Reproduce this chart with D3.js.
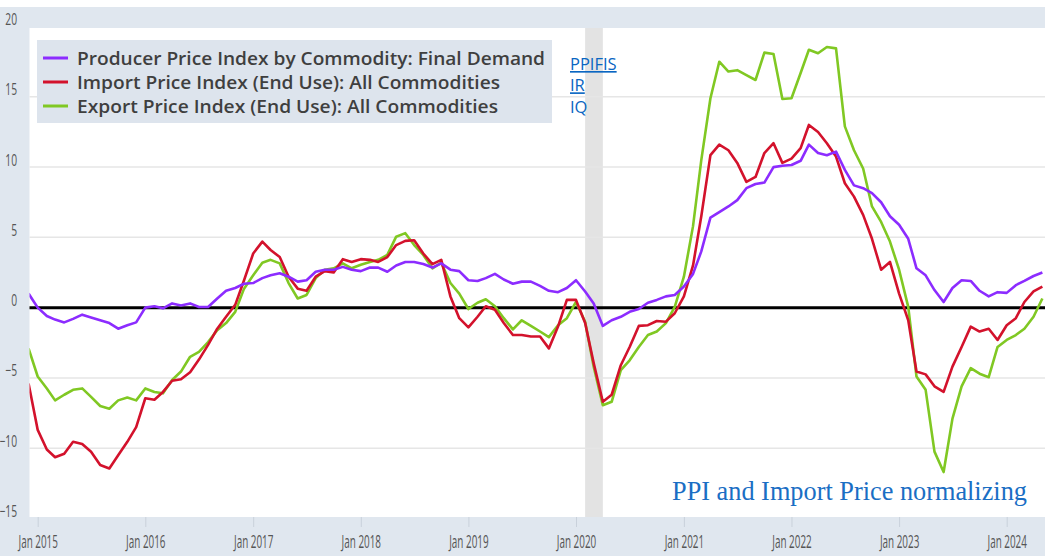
<!DOCTYPE html>
<html>
<head>
<meta charset="utf-8">
<script src="https://cdn.jsdelivr.net/npm/d3@7"></script>
<style>
	body { margin: 0; background: #fff; }
	svg { display: block; }
</style>
</head>
<body>
<div id="chart"></div>
<script>
// monthly % change from year ago, Dec 2014 .. May 2024
const firstMonth = new Date(2014, 11, 1);

const ppiFinalDemand = [
	1.0, 0.0, -0.6, -0.85, -1.05, -0.8, -0.5, -0.7, -0.9, -1.1, -1.5, -1.25, -1.05,
	0.0, 0.1, -0.05, 0.3, 0.15, 0.3, 0.05, 0.05, 0.65, 1.2, 1.4, 1.7,
	1.75, 2.1, 2.3, 2.45, 2.2, 1.85, 1.95, 2.55, 2.7, 2.7, 2.9, 2.7,
	2.6, 2.85, 2.85, 2.55, 3.0, 3.25, 3.25, 3.1, 2.85, 3.15, 2.7, 2.6,
	1.95, 1.9, 2.1, 2.4, 2.0, 1.7, 1.85, 1.85, 1.55, 1.2, 1.1, 1.4,
	1.95, 1.15, 0.3, -1.3, -0.9, -0.65, -0.3, -0.1, 0.35, 0.55, 0.8, 0.9,
	1.5, 2.4, 4.0, 6.4, 6.8, 7.2, 7.65, 8.5, 8.8, 8.9, 10.0, 10.1,
	10.15, 10.45, 11.6, 11.0, 10.85, 11.1, 9.8, 8.7, 8.5, 8.15, 7.5, 6.5,
	5.9, 4.9, 2.8, 2.3, 1.25, 0.4, 1.4, 1.95, 1.9, 1.2, 0.8, 1.1,
	1.05, 1.6, 1.9, 2.25, 2.5,
];

const importPrices = [
	-5.4, -8.7, -10.1, -10.65, -10.4, -9.55, -9.7, -10.25, -11.2, -11.45, -10.5, -9.55, -8.5,
	-6.45, -6.55, -6.0, -5.2, -5.1, -4.6, -3.7, -2.65, -1.5, -0.65, 0.2, 1.95,
	3.85, 4.7, 4.1, 3.6, 2.2, 1.35, 1.2, 2.2, 2.6, 2.5, 3.45, 3.25,
	3.45, 3.4, 3.25, 3.6, 4.45, 4.75, 4.8, 3.85, 3.1, 3.4, 0.8, -0.75,
	-1.4, -0.65, 0.1, -0.15, -1.1, -1.95, -1.95, -2.05, -2.05, -2.9, -1.35, 0.55,
	0.55, -1.1, -3.95, -6.7, -6.2, -4.1, -2.8, -1.3, -1.25, -0.95, -1.0, -0.4,
	0.8, 3.0, 6.5, 10.85, 11.6, 11.2, 10.3, 8.95, 9.3, 11.0, 11.7, 10.3,
	10.6, 11.35, 13.0, 12.5, 11.7, 10.75, 8.85, 7.9, 6.6, 4.9, 2.7, 3.25,
	1.0, -0.9, -4.55, -4.75, -5.6, -6.0, -4.2, -2.8, -1.35, -1.7, -1.5, -2.3,
	-1.25, -0.75, 0.4, 1.15, 1.5,
];

const exportPrices = [
	-2.9, -4.9, -5.75, -6.6, -6.2, -5.85, -5.75, -6.35, -7.0, -7.2, -6.6, -6.4, -6.6,
	-5.75, -6.0, -6.1, -5.15, -4.55, -3.5, -3.15, -2.45, -1.6, -1.1, -0.3, 1.35,
	2.3, 3.2, 3.4, 3.15, 1.75, 0.65, 0.9, 2.1, 2.7, 2.8, 3.15, 2.8,
	3.05, 3.25, 3.4, 3.75, 5.05, 5.3, 4.45, 3.75, 2.8, 3.2, 1.75, 1.0,
	-0.1, 0.35, 0.6, 0.1, -0.75, -1.55, -0.9, -1.3, -1.7, -2.1, -1.25, -0.75,
	0.4, -1.0, -4.2, -6.95, -6.7, -4.45, -3.75, -2.8, -1.95, -1.7, -1.1, 0.05,
	2.2, 5.8, 10.5, 14.9, 17.5, 16.8, 16.9, 16.55, 16.2, 18.15, 18.05, 14.85,
	14.9, 16.7, 18.35, 18.1, 18.55, 18.45, 12.9, 11.2, 9.9, 7.2, 6.1, 4.7,
	2.7, 0.05, -4.9, -5.85, -10.25, -11.7, -7.9, -5.6, -4.3, -4.7, -4.95, -2.8,
	-2.3, -1.95, -1.5, -0.65, 0.65,
];

const seriesNames = [
	"Producer Price Index by Commodity: Final Demand",
	"Import Price Index (End Use): All Commodities",
	"Export Price Index (End Use): All Commodities",
];
const seriesCodes = ["PPIFIS", "IR", "IQ"];
const seriesColors = ["#8c2cff", "#d3122c", "#80c823"];

const yTicks = [-15, -10, -5, 0, 5, 10, 15, 20];
const xTickLabels = [
	"Jan 2015", "Jan 2016", "Jan 2017", "Jan 2018", "Jan 2019",
	"Jan 2020", "Jan 2021", "Jan 2022", "Jan 2023", "Jan 2024",
];
const recession = [new Date(2020, 1, 1), new Date(2020, 3, 1)];
const noteText = "PPI and Import Price normalizing";

const width = 1045;
const height = 556;
const plot = { left: 29.5, right: 1045, top: 28, bottom: 517 };
const frameColor = "#e0e7ef";

const svg = d3
	.select("#chart")
	.append("svg")
	.attr("width", width)
	.attr("height", height);

const months = d3.timeMonth.range(
	firstMonth,
	d3.timeMonth.offset(firstMonth, ppiFinalDemand.length)
);
const parseTick = d3.timeParse("%b %Y");
const tickDates = xTickLabels.map(parseTick);

const x = d3
	.scaleTime()
	.domain([new Date(2015, 0, 1), new Date(2024, 0, 1)])
	.range([37.7, 1006.7]);

const y = d3.scaleLinear().domain([-15, 20]).range([518.4, 26.6]);

// outer frame + white plot area
svg.append("rect")
	.attr("x", 0)
	.attr("y", 7)
	.attr("width", width)
	.attr("height", height - 7)
	.attr("fill", frameColor);

svg.append("rect")
	.attr("x", plot.left)
	.attr("y", plot.top)
	.attr("width", plot.right - plot.left)
	.attr("height", plot.bottom - plot.top)
	.attr("fill", "#fff");

svg.append("clipPath")
	.attr("id", "plot-clip")
	.append("rect")
	.attr("x", plot.left)
	.attr("y", plot.top)
	.attr("width", plot.right - plot.left)
	.attr("height", plot.bottom - plot.top);

// recession shading
svg.append("rect")
	.attr("x", x(recession[0]))
	.attr("y", plot.top)
	.attr("width", x(recession[1]) - x(recession[0]))
	.attr("height", plot.bottom - plot.top)
	.attr("fill", "#e3e3e3");

// horizontal grid
svg.append("g")
	.selectAll("line")
	.data(yTicks.filter((d) => d > -15 && d < 20))
	.enter()
	.append("line")
	.attr("x1", plot.left)
	.attr("x2", plot.right)
	.attr("y1", (d) => y(d))
	.attr("y2", (d) => y(d))
	.attr("stroke", "#e6e6e6")
	.attr("stroke-width", 1.5);

// y axis labels (condensed look)
const yAxis = d3
	.axisLeft(y)
	.tickValues(yTicks)
	.tickSize(0)
	.tickFormat(d3.format("d"));

const yG = svg.append("g").attr("transform", "translate(17, 0)").call(yAxis);
yG.select(".domain").remove();
yG.selectAll("text")
	.attr("x", 0)
	.attr("dy", "-2px")
	.attr("font-family", "Open Sans")
	.attr("font-size", 16)
	.attr("fill", "#555")
	.attr("text-anchor", "end")
	.attr("transform", "scale(0.64, 1)");

// x axis
const xAxis = d3
	.axisBottom(x)
	.tickValues(tickDates)
	.tickSize(10)
	.tickFormat((d, i) => xTickLabels[i]);

const xG = svg
	.append("g")
	.attr("transform", `translate(0, ${plot.bottom})`)
	.call(xAxis);
xG.select(".domain").remove();
xG.selectAll("line").attr("stroke", "#c9d1db");
xG.selectAll("text")
	.attr("y", 31)
	.attr("dy", 0)
	.attr("font-family", "Open Sans")
	.attr("font-size", 18)
	.attr("fill", "#555")
	.attr("transform", "scale(0.55, 1)");

// zero line
svg.append("line")
	.attr("x1", plot.left)
	.attr("x2", plot.right)
	.attr("y1", y(0))
	.attr("y2", y(0))
	.attr("stroke", "#000")
	.attr("stroke-width", 3);

// series
const line = d3
	.line()
	.x((d, i) => x(months[i]))
	.y((d) => y(d));

svg.append("g")
	.attr("clip-path", "url(#plot-clip)")
	.selectAll("path")
	.data([exportPrices, importPrices, ppiFinalDemand])
	.enter()
	.append("path")
	.attr("d", line)
	.attr("fill", "none")
	.attr("stroke", (d, i) => seriesColors[2 - i])
	.attr("stroke-width", 2.6)
	.attr("stroke-linejoin", "round");

// legend
const legend = svg.append("g");
legend
	.append("rect")
	.attr("x", 37)
	.attr("y", 40)
	.attr("width", 515)
	.attr("height", 83)
	.attr("fill", "#dde4ed");

const legendWidths = [468, 423, 421];
seriesNames.forEach((name, i) => {
	const base = 65 + i * 24;
	legend
		.append("line")
		.attr("x1", 43)
		.attr("x2", 68)
		.attr("y1", base - 7)
		.attr("y2", base - 7)
		.attr("stroke", seriesColors[i])
		.attr("stroke-width", 3);
	legend
		.append("text")
		.attr("x", 77)
		.attr("y", base)
		.attr("font-family", "Open Sans")
		.attr("font-weight", 600)
		.attr("font-size", 18.5)
		.attr("fill", "#3f3f3f")
		.attr("textLength", legendWidths[i])
		.attr("lengthAdjust", "spacingAndGlyphs")
		.text(name);
});

// series codes as links
seriesCodes.forEach((code, i) => {
	svg.append("text")
		.attr("x", 570)
		.attr("y", 70 + i * 21.3)
		.attr("font-family", "Open Sans")
		.attr("font-size", 16.5)
		.attr("fill", "#0a66c2")
		.attr("text-decoration", i < 2 ? "underline" : null)
		.text(code);
});

// annotation
svg.append("text")
	.attr("x", 672)
	.attr("y", 500)
	.attr("font-family", "Liberation Serif")
	.attr("font-size", 26.3)
	.attr("fill", "#1a6ec4")
	.text(noteText);
</script>
</body>
</html>
